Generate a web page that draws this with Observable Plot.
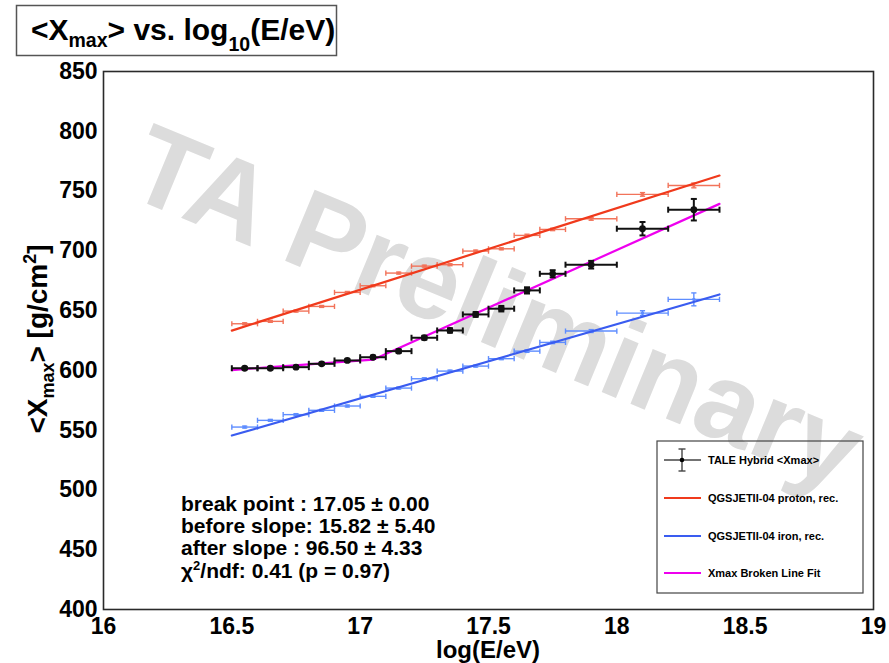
<!DOCTYPE html>
<html>
<head>
<meta charset="utf-8">
<script src="https://cdn.jsdelivr.net/npm/d3@7"></script>
<script src="https://cdn.jsdelivr.net/npm/@observablehq/plot@0.6"></script>
<style>
  html, body { margin: 0; padding: 0; background: #fff; }
  svg { display: block; }
</style>
</head>
<body>
<div id="chart"></div>
<script>
// Energy bins, log10(E/eV)
const binCenter = [16.55, 16.65, 16.75, 16.85, 16.95, 17.05, 17.15, 17.25, 17.35, 17.45, 17.55, 17.65, 17.75, 17.9, 18.1, 18.3];
const binLo     = [16.5, 16.6, 16.7, 16.8, 16.9, 17.0, 17.1, 17.2, 17.3, 17.4, 17.5, 17.6, 17.7, 17.8, 18.0, 18.2];
const binHi     = [16.6, 16.7, 16.8, 16.9, 17.0, 17.1, 17.2, 17.3, 17.4, 17.5, 17.6, 17.7, 17.8, 18.0, 18.2, 18.4];

// TALE hybrid <Xmax> [g/cm2] and its statistical error
const taleXmax = [601.8, 601.8, 602.7, 605.5, 608.3, 611.0, 616.1, 627.3, 633.4, 646.8, 651.6, 666.9, 680.8, 688.4, 718.5, 734.4];
const taleErr  = [1.0, 1.0, 1.0, 1.0, 1.0, 1.2, 1.4, 1.6, 1.8, 2.0, 2.3, 2.6, 3.0, 3.2, 5.6, 9.0];

// QGSJETII-04 reconstructed MC <Xmax>
const protonXmax = [639.0, 641.0, 649.6, 653.5, 665.2, 670.8, 681.4, 687.2, 688.4, 699.8, 701.7, 712.9, 717.9, 726.8, 747.2, 754.7];
const protonErr  = [0.8, 0.8, 0.8, 0.8, 0.8, 0.8, 0.8, 0.8, 0.8, 0.8, 0.8, 1.0, 1.0, 1.2, 1.5, 2.0];
const ironXmax   = [552.6, 558.2, 563.0, 566.6, 570.2, 578.3, 585.2, 593.0, 599.4, 603.6, 609.8, 616.1, 623.4, 632.9, 647.9, 659.4];
const ironErr    = [0.8, 0.8, 0.8, 0.8, 0.8, 0.8, 0.8, 0.8, 0.8, 0.8, 0.8, 1.0, 1.0, 1.2, 2.0, 5.4];

// Straight-line fits to the MC points, drawn over the fitted range
const fitRange   = [16.5, 18.4];
const protonLine = [633.3, 763.0];
const ironLine   = [545.5, 663.5];

// Broken-line fit to the data
const fitBreak    = 17.05;
const fitBreakErr = 0.00;
const slopeBefore = 15.82;
const slopeBeforeErr = 5.40;
const slopeAfter  = 96.50;
const slopeAfterErr = 4.33;
const fitLevel    = 609.0;   // <Xmax> at the break point
const chi2ndf     = 0.41;
const pValue      = 0.97;

// Axis ticks
const xTicks = [16, 16.5, 17, 17.5, 18, 18.5, 19];
const yTicks = [400, 450, 500, 550, 600, 650, 700, 750, 800, 850];

const legendLabels = ["TALE Hybrid <Xmax>", "QGSJETII-04 proton, rec.", "QGSJETII-04 iron, rec.", "Xmax Broken Line Fit"];

const colors = {
  data: "#111111",
  protonPts: "#f2735a",
  protonLine: "#f03a1c",
  ironPts: "#5e8dff",
  ironLine: "#3a5cf0",
  fit: "#ee00ee"
};

const FONT = "'Liberation Sans', Arial, Helvetica, sans-serif";

const rows = (vals, errs) => binCenter.map((x, i) => ({x, lo: binLo[i], hi: binHi[i], y: vals[i], e: errs[i]}));
const tale = rows(taleXmax, taleErr);
const proton = rows(protonXmax, protonErr);
const iron = rows(ironXmax, ironErr);

const fitRows = [fitRange[0], fitBreak, fitRange[1]].map(x => ({
  x, y: fitLevel + (x < fitBreak ? slopeBefore : slopeAfter) * (x - fitBreak)
}));
const lineRows = ys => fitRange.map((x, i) => ({x, y: ys[i]}));

// Short end caps for error bars, sized by the dot radius
const capV = {draw(ctx, size) { const r = Math.sqrt(size / Math.PI); ctx.moveTo(0, -r); ctx.lineTo(0, r); }};
const capH = {draw(ctx, size) { const r = Math.sqrt(size / Math.PI); ctx.moveTo(-r, 0); ctx.lineTo(r, 0); }};

function errorBars(data, color, width, capR) {
  const withY = data.filter(d => d.e > 0);
  return [
    Plot.link(data, {x1: "lo", x2: "hi", y1: "y", y2: "y", stroke: color, strokeWidth: width}),
    Plot.dot(data, {x: "lo", y: "y", symbol: capV, r: capR, fill: "none", stroke: color, strokeWidth: width}),
    Plot.dot(data, {x: "hi", y: "y", symbol: capV, r: capR, fill: "none", stroke: color, strokeWidth: width}),
    Plot.link(withY, {x1: "x", x2: "x", y1: d => d.y - d.e, y2: d => d.y + d.e, stroke: color, strokeWidth: width}),
    Plot.dot(withY, {x: "x", y: d => d.y - d.e, symbol: capH, r: capR, fill: "none", stroke: color, strokeWidth: width}),
    Plot.dot(withY, {x: "x", y: d => d.y + d.e, symbol: capH, r: capR, fill: "none", stroke: color, strokeWidth: width})
  ];
}

const W = 889, H = 663;
const M = {left: 103, right: 16, top: 71, bottom: 54};

const plot = Plot.plot({
  width: W,
  height: H,
  marginLeft: M.left,
  marginRight: M.right,
  marginTop: M.top,
  marginBottom: M.bottom,
  style: {fontFamily: FONT, background: "#fff", overflow: "visible"},
  x: {domain: [16, 19]},
  y: {domain: [400, 850]},
  marks: [
    // watermark
    Plot.text(["TA Preliminary"], {
      frameAnchor: "middle", text: d => d, rotate: 22.5, dx: -6, dy: 2,
      lineAnchor: "bottom", textAnchor: "middle",
      fontSize: 112, fontWeight: "bold", fill: "#dcdcdc"
    }),
    Plot.frame({stroke: "#2a2a2a", strokeWidth: 1.6}),
    Plot.axisX({ticks: xTicks, tickSize: 0, tickPadding: 8, tickFormat: d => String(d),
      fontSize: 23, fontWeight: "bold", fill: "#000", label: null}),
    Plot.axisY({ticks: yTicks, tickSize: 0, tickPadding: 6, tickFormat: d => String(d),
      fontSize: 23, fontWeight: "bold", fill: "#000", label: null}),

    // MC points
    ...errorBars(proton, colors.protonPts, 1.4, 2.6),
    Plot.dot(proton, {x: "x", y: "y", r: 1.6, fill: colors.protonPts, symbol: "square"}),
    ...errorBars(iron, colors.ironPts, 1.4, 2.6),
    Plot.dot(iron, {x: "x", y: "y", r: 1.6, fill: colors.ironPts, symbol: "square"}),

    // MC fit lines
    Plot.line(lineRows(protonLine), {x: "x", y: "y", stroke: colors.protonLine, strokeWidth: 2.2}),
    Plot.line(lineRows(ironLine), {x: "x", y: "y", stroke: colors.ironLine, strokeWidth: 2.2}),

    // broken-line fit
    Plot.line(fitRows, {x: "x", y: "y", stroke: colors.fit, strokeWidth: 2.2}),

    // data
    ...errorBars(tale, colors.data, 2, 3),
    Plot.dot(tale, {x: "x", y: "y", r: 3.4, fill: colors.data})
  ]
});

document.getElementById("chart").appendChild(plot);

const svg = d3.select(plot);

// Title box
const tg = svg.append("g").attr("font-family", FONT).attr("font-weight", "bold").attr("text-anchor", "start");
tg.append("rect").attr("x", 16.5).attr("y", 5.5).attr("width", 320).attr("height", 50)
  .attr("fill", "#fff").attr("stroke", "#555").attr("stroke-width", 1.5);
const tt = tg.append("text").attr("x", 31).attr("y", 40).attr("font-size", 30).attr("fill", "#000");
tt.append("tspan").text("<X");
tt.append("tspan").attr("font-size", 19.5).attr("dy", 7).text("max");
tt.append("tspan").attr("dy", -7).text("> vs. log");
tt.append("tspan").attr("font-size", 19.5).attr("dy", 11).text("10");
tt.append("tspan").attr("dy", -11).text("(E/eV)");

// Axis titles
svg.append("text").attr("x", 488).attr("y", 658).attr("text-anchor", "middle")
  .attr("font-family", FONT).attr("font-weight", "bold").attr("font-size", 24).attr("fill", "#000")
  .text("log(E/eV)");

const yt = svg.append("text").attr("transform", "translate(47,339) rotate(-90)").attr("text-anchor", "middle")
  .attr("font-family", FONT).attr("font-weight", "bold").attr("font-size", 28).attr("fill", "#000");
yt.append("tspan").text("<X");
yt.append("tspan").attr("font-size", 18).attr("dy", 7).text("max");
yt.append("tspan").attr("dy", -7).text("> [g/cm");
yt.append("tspan").attr("font-size", 18).attr("dy", -11).text("2");
yt.append("tspan").attr("dy", 11).text("]");

// Fit summary
const st = svg.append("g").attr("font-family", FONT).attr("font-weight", "bold").attr("font-size", 21)
  .attr("fill", "#000").attr("text-anchor", "start");
const statLines = [
  `break point : ${fitBreak.toFixed(2)} \u00b1 ${fitBreakErr.toFixed(2)}`,
  `before slope: ${slopeBefore.toFixed(2)} \u00b1 ${slopeBeforeErr.toFixed(2)}`,
  `after slope : ${slopeAfter.toFixed(2)} \u00b1 ${slopeAfterErr.toFixed(2)}`
];
statLines.forEach((s, i) => {
  st.append("text").attr("x", 181).attr("y", 511 + i * 22.2).attr("xml:space", "preserve").text(s);
});
const chi = st.append("text").attr("x", 181).attr("y", 511 + 3 * 22.2);
chi.append("tspan").text("\u03c7");
chi.append("tspan").attr("font-size", 13).attr("dy", -8).text("2");
chi.append("tspan").attr("dy", 8).text(`/ndf: ${chi2ndf.toFixed(2)} (p = ${pValue.toFixed(2)})`);

// Legend (transparent box)
const lg = svg.append("g").attr("font-family", FONT).attr("font-weight", "bold").attr("font-size", 11)
  .attr("fill", "#000").attr("text-anchor", "start");
lg.append("rect").attr("x", 657).attr("y", 441).attr("width", 206).attr("height", 152)
  .attr("fill", "none").attr("stroke", "#444").attr("stroke-width", 1.2);
const rowY = [460, 498, 536, 573];
const sx0 = 664, sx1 = 701, tx = 708;
// data entry: marker with error bars
lg.append("line").attr("x1", sx0).attr("x2", sx1).attr("y1", rowY[0]).attr("y2", rowY[0]).attr("stroke", "#444").attr("stroke-width", 1.4);
lg.append("line").attr("x1", 682).attr("x2", 682).attr("y1", rowY[0] - 11).attr("y2", rowY[0] + 11).attr("stroke", "#444").attr("stroke-width", 1.4);
lg.append("line").attr("x1", 678.5).attr("x2", 685.5).attr("y1", rowY[0] - 11).attr("y2", rowY[0] - 11).attr("stroke", "#444").attr("stroke-width", 1.4);
lg.append("line").attr("x1", 678.5).attr("x2", 685.5).attr("y1", rowY[0] + 11).attr("y2", rowY[0] + 11).attr("stroke", "#444").attr("stroke-width", 1.4);
lg.append("circle").attr("cx", 682).attr("cy", rowY[0]).attr("r", 2.3).attr("fill", "#000");
[colors.protonLine, colors.ironLine, colors.fit].forEach((c, i) => {
  lg.append("line").attr("x1", sx0).attr("x2", sx1).attr("y1", rowY[i + 1]).attr("y2", rowY[i + 1])
    .attr("stroke", c).attr("stroke-width", 2);
});
legendLabels.forEach((s, i) => {
  lg.append("text").attr("x", tx).attr("y", rowY[i] + 4).text(s);
});
</script>
</body>
</html>
